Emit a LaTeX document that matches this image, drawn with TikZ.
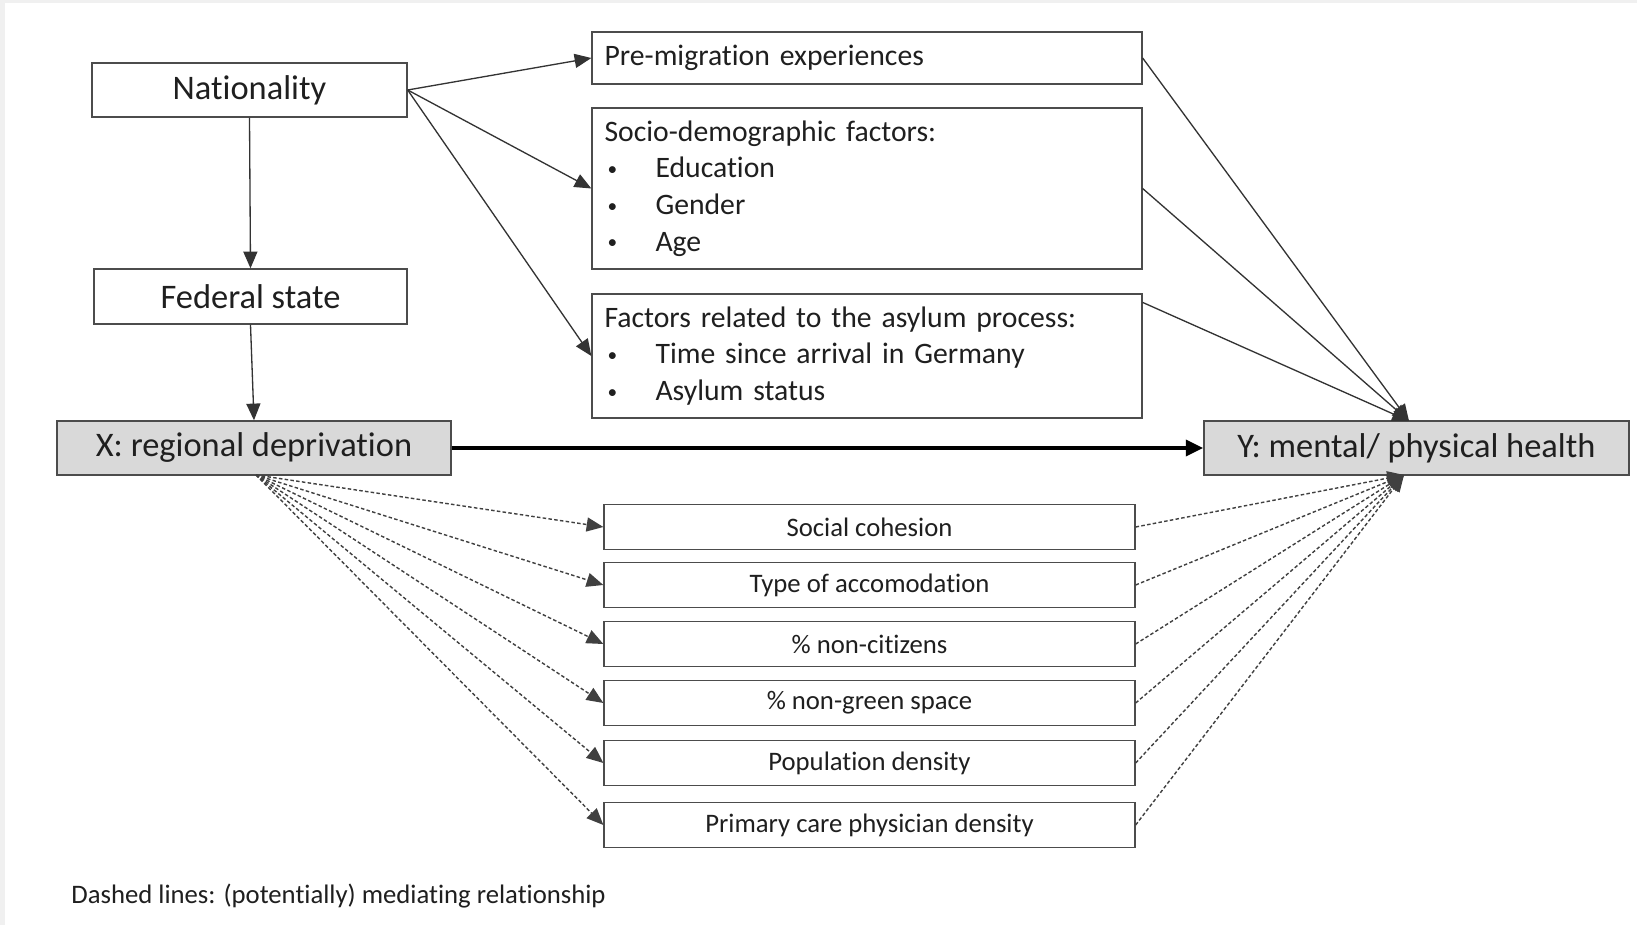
\documentclass[tikz,border=0pt]{standalone}
\usepackage{fontspec}
\setmainfont[RawFeature={-liga;-clig;-calt;-dlig}]{Carlito}
\usetikzlibrary{arrows.meta}

\newcommand{\bitem}[1]{\makebox[1.02cm][l]{\hspace{0.06cm}\raisebox{1.2pt}{\fontsize{11}{11}\selectfont\textbullet}}#1}

\begin{document}
\begin{tikzpicture}[x=0.02cm,y=-0.02cm,
  box/.style={draw=black!70, line width=0.8pt, text=black!88, inner sep=0pt},
  big/.style={font=\fontsize{19.6}{23}\selectfont},
  mid/.style={font=\fontsize{16.9}{20.8}\selectfont, align=left, inner xsep=0.25cm, text width=10.5cm},
  small/.style={font=\fontsize{15.2}{18}\selectfont},
  shaded/.style={fill=black!15},
  arr/.style={-{Triangle[length=9.5pt,width=8pt]}, line width=0.75pt, draw=black!80},
  dasharr/.style={-{Triangle[length=9.5pt,width=8pt]}, line width=0.8pt, draw=black!75, dash pattern=on 2pt off 1.3pt}]
\useasboundingbox (0,0) rectangle (1637,925);
\fill[white] (0,0) rectangle (1637,925);
\fill[black!6] (0,0) rectangle (5,925);
\fill[black!6] (0,0) rectangle (1637,3);

% left column
\node[box, big, minimum width=6.3cm, minimum height=1.08cm] (nat) at (249.5,90) {Nationality};
\node[box, big, minimum width=6.26cm, minimum height=1.1cm] (fed) at (250.5,296.5) {Federal state};
\node[box, big, shaded, minimum width=7.88cm, minimum height=1.08cm] (xdep) at (254,448) {X: regional deprivation};
\node[box, big, shaded, minimum width=8.5cm, minimum height=1.08cm] (yhealth) at (1416.5,448) {Y: mental/ physical health};

% confounders
\node[box, mid, minimum height=1.04cm] (pre) at (867,58) {Pre-migration experiences};
\node[box, mid, minimum height=3.22cm] (socio) at (867,188.5) {Socio-demographic factors:\\ \bitem{Education}\\ \bitem{Gender}\\ \bitem{Age}};
\node[box, mid, minimum height=2.48cm] (asyl) at (867,356) {Factors related to the asylum process:\\ \bitem{Time since arrival in Germany}\\ \bitem{Asylum status}};

% mediators
\node[box, small, minimum width=10.62cm, minimum height=0.9cm] (m1) at (869.5,527) {Social cohesion};
\node[box, small, minimum width=10.62cm, minimum height=0.9cm] (m2) at (869.5,585) {Type of accomodation};
\node[box, small, minimum width=10.62cm, minimum height=0.9cm] (m3) at (869.5,644) {\% non-citizens};
\node[box, small, minimum width=10.62cm, minimum height=0.9cm] (m4) at (869.5,703) {\% non-green space};
\node[box, small, minimum width=10.62cm, minimum height=0.9cm] (m5) at (869.5,763) {Population density};
\node[box, small, minimum width=10.62cm, minimum height=0.9cm] (m6) at (869.5,825) {Primary care physician density};

\node[small, text=black!88, anchor=west, inner sep=0pt] (note) at (71,896) {Dashed lines: (potentially) mediating relationship};

\coordinate (xbot) at (256,475);
\coordinate (ytop) at (1409,421);
\coordinate (ybot) at (1404,475);

\draw[arr] (nat.south) -- (fed.north);
\draw[arr] (fed.south) -- (xdep.north);
\draw[arr] (nat.east) -- (pre.west);
\draw[arr] (nat.east) -- (socio.west);
\draw[arr] (nat.east) -- (asyl.west);
\draw[arr] (pre.east) -- (ytop);
\draw[arr] (socio.east) -- (ytop);
\draw[arr] (asyl.11) -- (ytop);
\draw[-{Triangle[length=10pt,width=9pt]}, line width=2.4pt] (xdep.east) -- (yhealth.west);

\foreach \m in {m1,m2,m3,m4,m5,m6} {
  \draw[dasharr] (xbot) -- (\m.west);
  \draw[dasharr] (\m.east) -- (ybot);
}
\end{tikzpicture}
\end{document}
